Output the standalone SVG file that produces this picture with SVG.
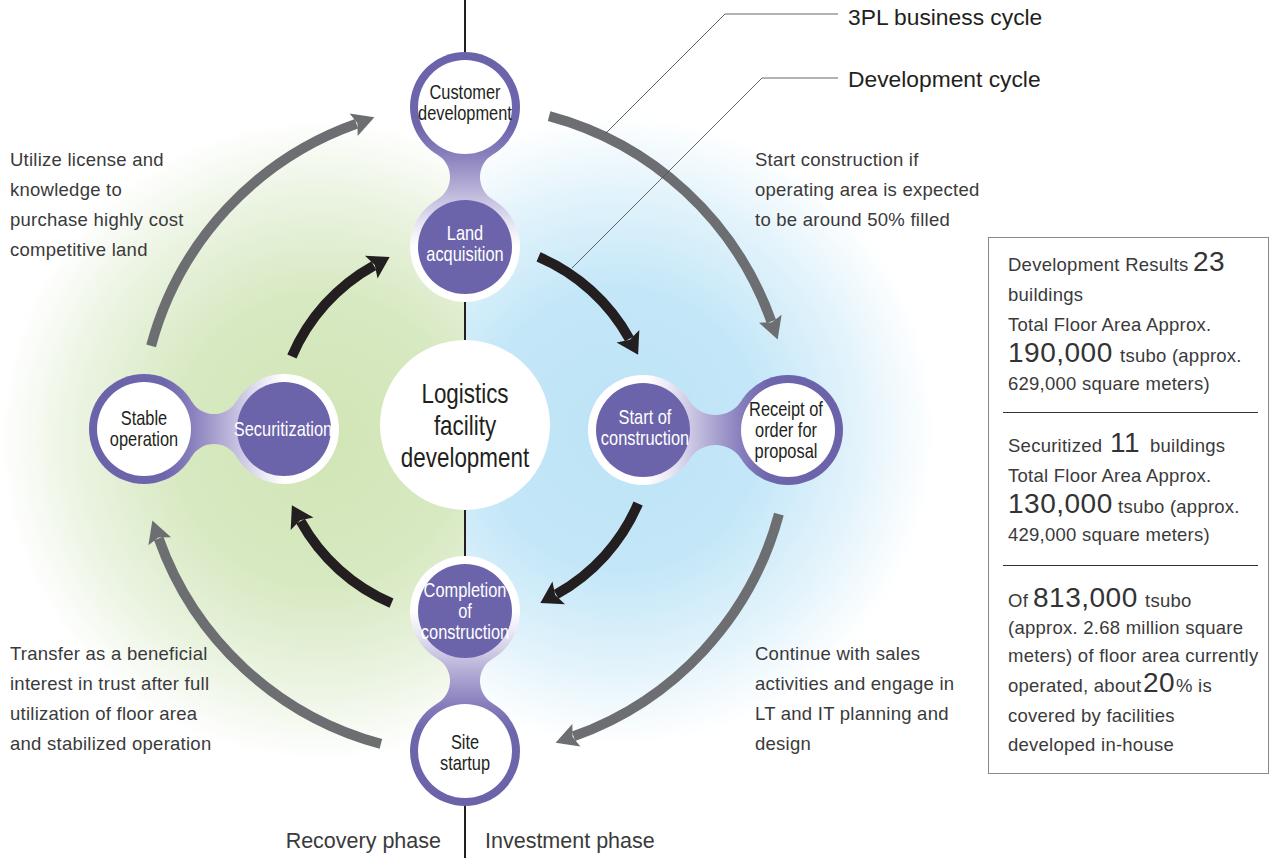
<svg xmlns="http://www.w3.org/2000/svg" width="1270" height="858" viewBox="0 0 1270 858">
  <style>
    .ann { font-family: "Liberation Sans", Arial, sans-serif; font-size: 18.5px; letter-spacing: 0.25px; fill: #3a3a3a; }
    .big { font-size: 28px; letter-spacing: 0.5px; fill: #333333; }
    .node { font-family: "Liberation Sans", Arial, sans-serif; font-size: 20px; text-anchor: middle; }
    .hubtext { font-size: 27px; }
    .dark { fill: #231f20; }
    .light { fill: #ffffff; }
    .title { font-family: "Liberation Sans", Arial, sans-serif; font-size: 22.8px; fill: #231f20; }
    .phase { font-family: "Liberation Sans", Arial, sans-serif; font-size: 21.5px; fill: #3a3a3a; }
    .grayArc { fill: none; stroke: #6d6e71; stroke-width: 10; marker-end: url(#headGray); }
    .blackArc { fill: none; stroke: #231f20; stroke-width: 10; marker-end: url(#headBlack); }
    .leader { fill: none; stroke: #555555; stroke-width: 0.9; }
  </style>
  <defs>
    <radialGradient id="greenGlow" gradientUnits="userSpaceOnUse" cx="320" cy="440" r="320">
      <stop offset="0" stop-color="#d2e5b6"/>
      <stop offset="0.45" stop-color="#d7e9c1"/>
      <stop offset="0.75" stop-color="#eaf3e0"/>
      <stop offset="1" stop-color="#ffffff"/>
    </radialGradient>
    <radialGradient id="blueGlow" gradientUnits="userSpaceOnUse" cx="620" cy="430" r="315">
      <stop offset="0" stop-color="#bce3f6"/>
      <stop offset="0.45" stop-color="#c4e7f8"/>
      <stop offset="0.75" stop-color="#e2f3fb"/>
      <stop offset="1" stop-color="#ffffff"/>
    </radialGradient>
    <!-- shared fill for the paired-node silhouettes: ring end purple, filled end white -->
    <linearGradient id="pairGrad" gradientUnits="userSpaceOnUse" x1="0" y1="-55" x2="0" y2="195">
      <stop offset="0" stop-color="#6b63aa"/>
      <stop offset="0.3" stop-color="#6e66ac"/>
      <stop offset="0.4" stop-color="#857cbb"/>
      <stop offset="0.5" stop-color="#a69fce"/>
      <stop offset="0.6" stop-color="#c9c4e2"/>
      <stop offset="0.7" stop-color="#ebe9f5"/>
      <stop offset="0.78" stop-color="#ffffff"/>
      <stop offset="1" stop-color="#ffffff"/>
    </linearGradient>
    <marker id="headGray" markerUnits="userSpaceOnUse" markerWidth="40" markerHeight="40" refX="0" refY="0" orient="auto" overflow="visible">
      <path d="M-3,-12 L19,0 L-3,12 L1,0 Z" fill="#6d6e71"/>
    </marker>
    <marker id="headBlack" markerUnits="userSpaceOnUse" markerWidth="40" markerHeight="40" refX="0" refY="0" orient="auto" overflow="visible">
      <path d="M-3,-13 L18,0 L-3,13 L1,0 Z" fill="#231f20"/>
    </marker>
    <!-- two nodes joined by a waisted neck, centres 140 apart -->
    <g id="pair140">
      <circle cx="0" cy="0" r="55" fill="url(#pairGrad)"/>
      <circle cx="0" cy="140" r="55" fill="url(#pairGrad)"/>
      <path d="M27.92,47.38 A26.25,26.25 0 0 0 27.92,92.62 L-27.92,92.62 A26.25,26.25 0 0 0 -27.92,47.38 Z" fill="url(#pairGrad)"/>
      <circle cx="0" cy="0" r="47" fill="#ffffff"/>
      <circle cx="0" cy="140" r="47" fill="#6b64aa"/>
    </g>
    <!-- same shape, centres 145 apart -->
    <g id="pair145">
      <circle cx="0" cy="0" r="55" fill="url(#pairGrad)"/>
      <circle cx="0" cy="145" r="55" fill="url(#pairGrad)"/>
      <path d="M29.33,46.53 A30.7,30.7 0 0 0 29.33,98.47 L-29.33,98.47 A30.7,30.7 0 0 0 -29.33,46.53 Z" fill="url(#pairGrad)"/>
      <circle cx="0" cy="0" r="47" fill="#ffffff"/>
      <circle cx="0" cy="145" r="47" fill="#6b64aa"/>
    </g>
  </defs>

  <!-- background glows: recovery side green, investment side blue -->
  <rect x="0" y="0" width="1270" height="858" fill="#ffffff"/>
  <rect x="0" y="0" width="465" height="858" fill="url(#greenGlow)"/>
  <rect x="465" y="0" width="805" height="858" fill="url(#blueGlow)"/>

  <!-- phase divider -->
  <line x1="465" y1="0" x2="465" y2="858" stroke="#231f20" stroke-width="2"/>

  <!-- cycle arrows -->
  <g id="connectors">
    <!-- outer 3PL business cycle -->
    <path class="grayArc" d="M151.1,345.9 A325,325 0 0 1 356.5,123.7"/>
    <path class="grayArc" d="M549.1,116.1 A325,325 0 0 1 771.3,321.5"/>
    <path class="grayArc" d="M778.9,514.1 A325,325 0 0 1 573.5,736.3"/>
    <path class="grayArc" d="M380.9,743.9 A325,325 0 0 1 158.7,538.5"/>
    <!-- inner development cycle -->
    <path class="blackArc" d="M291.9,356.5 A188,188 0 0 1 373.9,265.6"/>
    <path class="blackArc" d="M538.5,256.9 A188,188 0 0 1 629.4,338.9"/>
    <path class="blackArc" d="M638.1,503.5 A188,188 0 0 1 556.1,594.4"/>
    <path class="blackArc" d="M391.5,603.1 A188,188 0 0 1 300.6,521.1"/>
  </g>

  <!-- cycle legend leaders -->
  <g id="legend">
    <polyline class="leader" points="838,14 725,14 605,134"/>
    <polyline class="leader" points="838,78 762,78 572,268"/>
    <text class="title" x="848" y="25">3PL business cycle</text>
    <text class="title" x="848" y="87">Development cycle</text>
  </g>

  <!-- centre hub -->
  <g id="hub">
    <circle cx="465" cy="425" r="85" fill="#ffffff"/>
    <g transform="translate(465,0) scale(0.83,1)">
      <text class="node hubtext dark" x="0" y="403">Logistics</text>
      <text class="node hubtext dark" x="0" y="435">facility</text>
      <text class="node hubtext dark" x="0" y="467">development</text>
    </g>
  </g>

  <!-- top pair -->
  <g id="pair-top">
    <use href="#pair140" transform="translate(465,107)"/>
    <g id="customer-development" transform="translate(465,0) scale(0.82,1)">
      <text class="node dark" x="0" y="99">Customer</text>
      <text class="node dark" x="0" y="120">development</text>
    </g>
    <g id="land-acquisition" transform="translate(465,0) scale(0.82,1)">
      <text class="node light" x="0" y="240">Land</text>
      <text class="node light" x="0" y="261">acquisition</text>
    </g>
  </g>

  <!-- left pair -->
  <g id="pair-left">
    <use href="#pair140" transform="translate(144,429) rotate(-90)"/>
    <g id="stable-operation" transform="translate(144,0) scale(0.82,1)">
      <text class="node dark" x="0" y="425">Stable</text>
      <text class="node dark" x="0" y="446">operation</text>
    </g>
    <g id="securitization" transform="translate(283,0) scale(0.82,1)">
      <text class="node light" x="0" y="436">Securitization</text>
    </g>
  </g>

  <!-- right pair -->
  <g id="pair-right">
    <use href="#pair145" transform="translate(788,430) rotate(90)"/>
    <g id="start-of-construction" transform="translate(645,0) scale(0.82,1)">
      <text class="node light" x="0" y="424">Start of</text>
      <text class="node light" x="0" y="445">construction</text>
    </g>
    <g id="receipt-of-order" transform="translate(786,0) scale(0.82,1)">
      <text class="node dark" x="0" y="416">Receipt of</text>
      <text class="node dark" x="0" y="437">order for</text>
      <text class="node dark" x="0" y="458">proposal</text>
    </g>
  </g>

  <!-- bottom pair -->
  <g id="pair-bottom">
    <use href="#pair140" transform="translate(465,751) rotate(180)"/>
    <g id="completion-of-construction" transform="translate(465,0) scale(0.82,1)">
      <text class="node light" x="0" y="597">Completion</text>
      <text class="node light" x="0" y="618">of</text>
      <text class="node light" x="0" y="639">construction</text>
    </g>
    <g id="site-startup" transform="translate(465,0) scale(0.82,1)">
      <text class="node dark" x="0" y="749">Site</text>
      <text class="node dark" x="0" y="770">startup</text>
    </g>
  </g>

  <!-- quadrant notes -->
  <g id="notes">
    <text class="ann" x="10" y="166">Utilize license and</text>
    <text class="ann" x="10" y="196">knowledge to</text>
    <text class="ann" x="10" y="226">purchase highly cost</text>
    <text class="ann" x="10" y="256">competitive land</text>

    <text class="ann" x="755" y="166">Start construction if</text>
    <text class="ann" x="755" y="196">operating area is expected</text>
    <text class="ann" x="755" y="226">to be around 50% filled</text>

    <text class="ann" x="10" y="660">Transfer as a beneficial</text>
    <text class="ann" x="10" y="690">interest in trust after full</text>
    <text class="ann" x="10" y="720">utilization of floor area</text>
    <text class="ann" x="10" y="750">and stabilized operation</text>

    <text class="ann" x="755" y="660">Continue with sales</text>
    <text class="ann" x="755" y="690">activities and engage in</text>
    <text class="ann" x="755" y="720">LT and IT planning and</text>
    <text class="ann" x="755" y="750">design</text>
  </g>

  <!-- phase labels -->
  <text class="phase" x="441" y="848" text-anchor="end">Recovery phase</text>
  <text class="phase" x="485" y="848">Investment phase</text>

  <!-- results panel -->
  <g id="results">
    <rect x="988.5" y="237.5" width="280" height="536" fill="#ffffff" stroke="#8a8a8a" stroke-width="1"/>
    <line x1="1003" y1="412.5" x2="1258" y2="412.5" stroke="#333333" stroke-width="1"/>
    <line x1="1003" y1="565.5" x2="1258" y2="565.5" stroke="#333333" stroke-width="1"/>

    <text class="ann" x="1008" y="271">Development Results<tspan class="big" x="1193">23</tspan></text>
    <text class="ann" x="1008" y="301">buildings</text>
    <text class="ann" x="1008" y="331">Total Floor Area Approx.</text>
    <text class="ann" x="1008" y="362"><tspan class="big">190,000</tspan><tspan x="1120">tsubo (approx.</tspan></text>
    <text class="ann" x="1008" y="390">629,000 square meters)</text>

    <text class="ann" x="1008" y="452">Securitized<tspan class="big" x="1110">11</tspan><tspan x="1150">buildings</tspan></text>
    <text class="ann" x="1008" y="482">Total Floor Area Approx.</text>
    <text class="ann" x="1008" y="513"><tspan class="big">130,000</tspan><tspan x="1118">tsubo (approx.</tspan></text>
    <text class="ann" x="1008" y="541">429,000 square meters)</text>

    <text class="ann" x="1008" y="607">Of<tspan class="big" x="1033">813,000</tspan><tspan x="1145">tsubo</tspan></text>
    <text class="ann" x="1008" y="634">(approx. 2.68 million square</text>
    <text class="ann" x="1008" y="662">meters) of floor area currently</text>
    <text class="ann" x="1008" y="692">operated, about<tspan class="big" x="1143">20</tspan><tspan x="1176">% is</tspan></text>
    <text class="ann" x="1008" y="722">covered by facilities</text>
    <text class="ann" x="1008" y="751">developed in-house</text>
  </g>
</svg>
